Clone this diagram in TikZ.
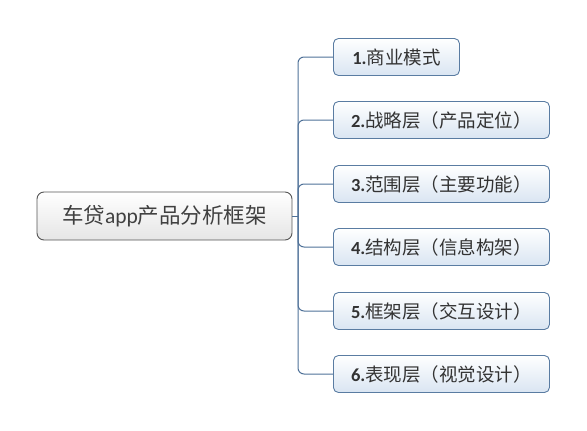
\documentclass[tikz,border=0pt]{standalone}
\usepackage{fontspec}
\setmainfont{Carlito}
\newfontfamily\cjk{Noto Sans CJK SC}
\usepackage{tikz}
\usetikzlibrary{positioning}
\definecolor{linkblue}{HTML}{4F7198}
\definecolor{boxblue}{HTML}{5A7CA2}
\definecolor{fillblue}{HTML}{D9E5F2}
\definecolor{rootgray}{HTML}{555555}

\begin{document}
\begin{tikzpicture}[x=1pt, y=-1pt,
	topic/.style={draw=boxblue, rounded corners=5pt, line width=0.9pt, top color=white, bottom color=fillblue, minimum height=37pt, minimum width=126pt, inner xsep=4pt, anchor=west, font=\fontsize{18.5}{22}\selectfont, text=black!80},
	wide/.style={topic, minimum width=216pt},
	link/.style={draw=linkblue, line width=1pt, rounded corners=6pt}]
	\useasboundingbox (0,0) rectangle (587,431);
	%Root
	\node [draw=rootgray, rounded corners=7pt, line width=0.9pt, top color=white, bottom color=black!10, minimum width=255pt, minimum height=48pt, font=\fontsize{21.5}{26}\selectfont, text=black!75] (root) at (164.5,216) {{\cjk 车贷}app{\cjk 产品分析框架}};
	\coordinate (hub) at (298,216);
	%Topics
	\node [topic] (t1) at (333,57) {{\bfseries 1.}{\cjk 商业模式}};
	\node [wide] (t2) at (333,120) {{\bfseries 2.}{\cjk 战略层（产品定位）}};
	\node [wide] (t3) at (333,184) {{\bfseries 3.}{\cjk 范围层（主要功能）}};
	\node [wide] (t4) at (333,247) {{\bfseries 4.}{\cjk 结构层（信息构架）}};
	\node [wide] (t5) at (333,311) {{\bfseries 5.}{\cjk 框架层（交互设计）}};
	\node [wide] (t6) at (333,374) {{\bfseries 6.}{\cjk 表现层（视觉设计）}};
	%Links
	\draw [link] (root.east) -- (hub);
	\draw [link] (hub) |- (t1.west);
	\draw [link] (hub) |- (t2.west);
	\draw [link] (hub) |- (t3.west);
	\draw [link] (hub) |- (t4.west);
	\draw [link] (hub) |- (t5.west);
	\draw [link] (hub) |- (t6.west);
\end{tikzpicture}
\end{document}
